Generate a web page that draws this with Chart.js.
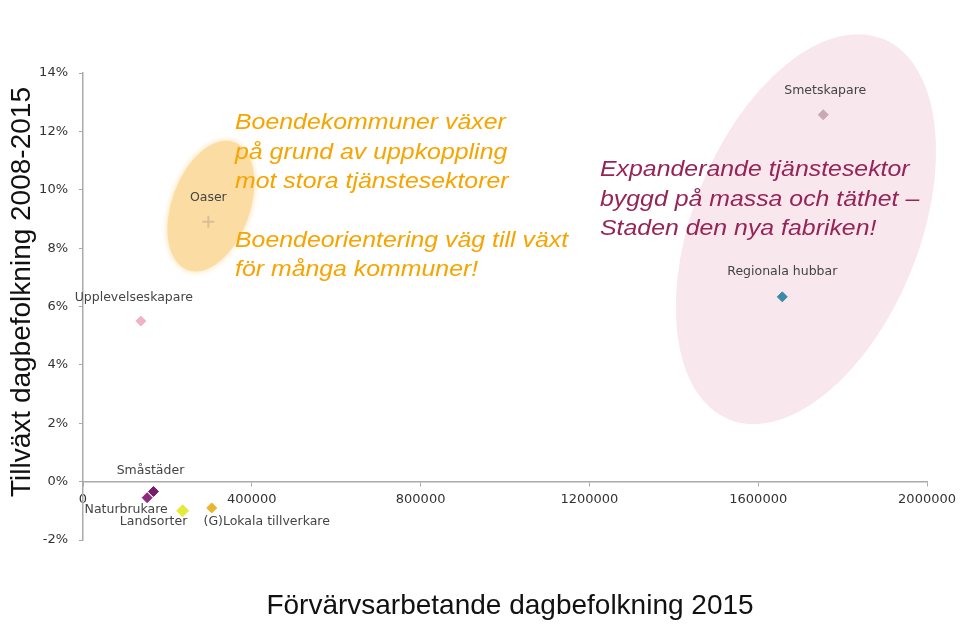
<!DOCTYPE html>
<html>
<head>
<meta charset="utf-8">
<script src="https://cdn.jsdelivr.net/npm/chart.js@4.4.1/dist/chart.umd.min.js"></script>
<style>
  html, body { margin: 0; padding: 0; background: #fff; }
  #wrap { width: 962px; height: 624px; }
</style>
</head>
<body>
<div id="wrap"><canvas id="chart" width="962" height="624"></canvas></div>
<script>
// data
const names = ['Smetskapare', 'Regionala hubbar', 'Oaser', 'Upplevelseskapare', 'Småstäder', 'Naturbrukare', 'Landsorter', '(G)Lokala tillverkare'];
const dagbefolkning = [1754000, 1657000, 297000, 137000, 167000, 152000, 236000, 305000];
const tillvaxt = [12.57, 6.33, 8.9, 5.5, -0.34, -0.55, -1.0, -0.9]; // percent
const xTicks = [0, 400000, 800000, 1200000, 1600000, 2000000];
const yTicks = [-2, 0, 2, 4, 6, 8, 10, 12, 14];

const xTitle = 'Förvärvsarbetande dagbefolkning 2015';
const yTitle = 'Tillväxt dagbefolkning 2008-2015';
const orangeNote = ['Boendekommuner växer', 'på grund av uppkoppling', 'mot stora tjänstesektorer', '', 'Boendeorientering väg till växt', 'för många kommuner!'];
const maroonNote = ['Expanderande tjänstesektor', 'byggd på massa och täthet –', 'Staden den nya fabriken!'];

// styling per point
const pointColors = ['#c8aab5', '#3a8aa8', '#d9bf96', '#f0b2c8', '#7a1c6c', '#8c2a7c', '#e4ea3c', '#e8b52c'];
const pointStyles = ['rectRot', 'rectRot', 'cross', 'rectRot', 'rectRot', 'rectRot', 'rectRot', 'rectRot'];
const pointSizes = [5, 5, 6, 5, 5, 5, 6, 5];
// label offset from point, px (dx, dy of text centre)
const labelOffsets = [[2, -24], [0, -25], [0, -24], [-7, -23], [-3, -21], [-21, 12], [-29, 11], [55, 14]];

// highlight areas, centre in data units, radii in px, rotation in deg
const areas = [
  { x: 303000, y: 9.44, rx: 39, ry: 68, rot: 20, fill: '#fbdda4', blur: 6 },
  { x: 1713000, y: 8.65, rx: 114, ry: 206, rot: 22, fill: '#f8e8ee', blur: 0, stroke: '#ffffff' }
];

const decorations = {
  id: 'decorations',
  beforeDatasetsDraw(chart) {
    const { ctx, scales: { x, y } } = chart;
    areas.forEach(a => {
      ctx.save();
      ctx.beginPath();
      ctx.ellipse(x.getPixelForValue(a.x), y.getPixelForValue(a.y), a.rx, a.ry, a.rot * Math.PI / 180, 0, Math.PI * 2);
      if (a.blur) { ctx.shadowColor = a.fill; ctx.shadowBlur = a.blur; }
      ctx.fillStyle = a.fill;
      ctx.fill();
      if (a.stroke) { ctx.shadowBlur = 0; ctx.strokeStyle = a.stroke; ctx.lineWidth = 1.5; ctx.stroke(); }
      ctx.restore();
    });
  },
  afterDatasetsDraw(chart) {
    const { ctx, scales: { x, y } } = chart;
    ctx.save();
    // point labels
    ctx.font = '12.5px "DejaVu Sans"';
    ctx.fillStyle = '#444';
    ctx.textAlign = 'center';
    ctx.textBaseline = 'middle';
    names.forEach((n, i) => {
      const px = x.getPixelForValue(dagbefolkning[i]);
      const py = y.getPixelForValue(tillvaxt[i]);
      ctx.fillText(n, px + labelOffsets[i][0], py + labelOffsets[i][1]);
    });
    // notes, slightly widened like the original
    const drawNote = (lines, left, top, color) => {
      ctx.fillStyle = color;
      ctx.font = 'italic 22px "Liberation Sans", Arial';
      ctx.textAlign = 'left';
      lines.forEach((l, i) => {
        ctx.save();
        ctx.translate(left, top + i * 29.4);
        ctx.scale(1.13, 1);
        ctx.fillText(l, 0, 0);
        ctx.restore();
      });
    };
    drawNote(orangeNote, 235, 123, '#f7a400');
    drawNote(maroonNote, 600, 170, '#962458');
    // axis titles
    ctx.fillStyle = '#111';
    ctx.font = '28px "Liberation Sans", Arial';
    ctx.textAlign = 'center';
    ctx.fillText(xTitle, 510, 606);
    ctx.translate(22, 292);
    ctx.rotate(-Math.PI / 2);
    ctx.fillText(yTitle, 0, 0);
    ctx.restore();
  }
};

const tickFont = { family: '"DejaVu Sans"', size: 13 };

new Chart(document.getElementById('chart'), {
  type: 'scatter',
  data: {
    datasets: [{
      data: names.map((n, i) => ({ x: dagbefolkning[i], y: tillvaxt[i] })),
      backgroundColor: pointColors,
      borderColor: pointColors,
      pointStyle: pointStyles,
      pointRadius: pointSizes,
      pointHoverRadius: pointSizes,
      borderWidth: pointStyles.map(s => s === 'cross' ? 2 : 1)
    }]
  },
  options: {
    responsive: false,
    animation: false,
    devicePixelRatio: 1,
    layout: { padding: { left: 0, top: 73, right: 32, bottom: 84 } },
    plugins: { legend: { display: false }, tooltip: { enabled: false } },
    scales: {
      x: {
        type: 'linear',
        position: { y: 0 },
        min: 0, max: 2000000,
        afterBuildTicks: s => { s.ticks = xTicks.map(v => ({ value: v })); },
        ticks: { font: tickFont, color: '#333', padding: 6, maxRotation: 0, callback: v => String(v) },
        grid: { display: true, drawOnChartArea: false, drawTicks: true, tickLength: 4, color: '#aaa' },
        border: { display: true, color: '#aaa', width: 1.5 }
      },
      y: {
        type: 'linear',
        position: 'left',
        min: -2, max: 14,
        afterBuildTicks: s => { s.ticks = yTicks.map(v => ({ value: v })); },
        afterFit: s => { s.width = 83; },
        ticks: { font: tickFont, color: '#333', padding: 11, callback: v => v + '%' },
        grid: { display: true, drawOnChartArea: false, drawTicks: true, tickLength: 4, color: '#aaa' },
        border: { display: true, color: '#aaa', width: 1.5 }
      }
    }
  },
  plugins: [decorations]
});
</script>
</body>
</html>
